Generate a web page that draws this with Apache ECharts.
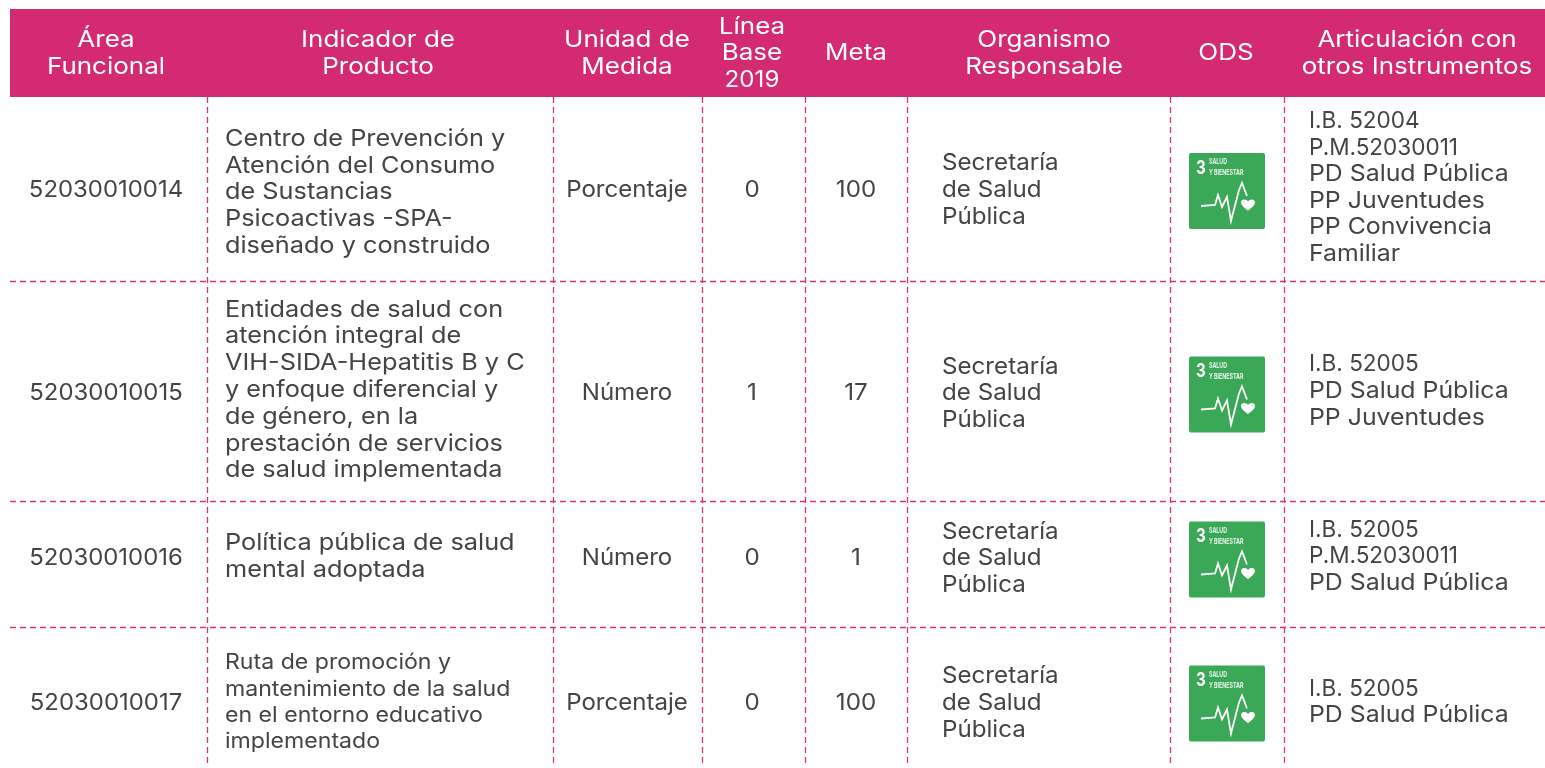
<!DOCTYPE html>
<html>
<head>
<meta charset="utf-8">
<title>Indicadores de producto</title>
<script src="https://cdn.jsdelivr.net/npm/echarts@6/dist/echarts.min.js"></script>
<style>
html,body{margin:0;padding:0;background:#fff}
#main{width:1545px;height:768px}
</style>
</head>
<body>
<div id="main"></div>
<script>
var headers = [
  ['Área', 'Funcional'],
  ['Indicador de', 'Producto'],
  ['Unidad de', 'Medida'],
  ['Línea', 'Base', '2019'],
  ['Meta'],
  ['Organismo', 'Responsable'],
  ['ODS'],
  ['Articulación con', 'otros Instrumentos']
];
var areaCodes = ['52030010014', '52030010015', '52030010016', '52030010017'];
var indicators = [
  ['Centro de Prevención y', 'Atención del Consumo', 'de Sustancias', 'Psicoactivas -SPA-', 'diseñado y construido'],
  ['Entidades de salud con', 'atención integral de', 'VIH-SIDA-Hepatitis B y C', 'y enfoque diferencial y', 'de género, en la', 'prestación de servicios', 'de salud implementada'],
  ['Política pública de salud', 'mental adoptada'],
  ['Ruta de promoción y', 'mantenimiento de la salud', 'en el entorno educativo', 'implementado']
];
var units = ['Porcentaje', 'Número', 'Número', 'Porcentaje'];
var baselines = ['0', '1', '0', '0'];
var goals = ['100', '17', '1', '100'];
var organisms = [
  ['Secretaría', 'de Salud', 'Pública'],
  ['Secretaría', 'de Salud', 'Pública'],
  ['Secretaría', 'de Salud', 'Pública'],
  ['Secretaría', 'de Salud', 'Pública']
];
var articulations = [
  ['I.B. 52004', 'P.M.52030011', 'PD Salud Pública', 'PP Juventudes', 'PP Convivencia', 'Familiar'],
  ['I.B. 52005', 'PD Salud Pública', 'PP Juventudes'],
  ['I.B. 52005', 'P.M.52030011', 'PD Salud Pública'],
  ['I.B. 52005', 'PD Salud Pública']
];
var odsGoals = [3, 3, 3, 3];

// layout, in page pixels
var colLines = [207, 553, 702, 805, 907, 1170, 1284];
var headCenters = [106, 378, 627, 752, 856, 1044, 1226, 1417];
var rowLines = [281, 501, 627];
var rowCenters = [190, 393.5, 558.5, 703];
var indicatorCenters = [192.5, 390, 556.5, 702.5];
var articulationCenters = [187.5, 391, 556.5, 702];
var iconCenters = [191, 394.5, 559.5, 703.5];
var left = 10, right = 1545, headTop = 9, headBottom = 97, tableBottom = 765;

var pink = '#d42a71';
var dash = '#da3079';
var ink = '#444444';
var fontName = 'Inter';

var myChart = echarts.init(document.getElementById('main'));

// no Montserrat here, so the text is stretched sideways to its width
function textLines(api, lines, x, cy, align, color, size, step, stretch) {
  var out = [];
  for (var i = 0; i < lines.length; i++) {
    var p = api.coord([x, cy + (i - (lines.length - 1) / 2) * step]);
    var s = /^(I\.B|P\.M)/.test(lines[i]) ? .98 : (lines[i] === '2019' ? 1.05 : stretch);
    out.push({
      type: 'text',
      x: p[0], y: p[1], scaleX: s,
      style: {
        x: 0, y: 0, text: lines[i], fill: color,
        font: '400 ' + size + 'px ' + fontName,
        textAlign: align, textVerticalAlign: 'middle'
      }
    });
  }
  return out;
}

function renderBack(params, api) {
  var a = api.coord([left, headTop]);
  var b = api.coord([right, headBottom]);
  var kids = [{type: 'rect', shape: {x: a[0], y: a[1], width: b[0] - a[0], height: b[1] - a[1]}, style: {fill: pink}}];
  colLines.forEach(function (x) {
    var p = api.coord([x, headBottom]), q = api.coord([x, tableBottom]);
    kids.push({type: 'line', shape: {x1: p[0] + .5, y1: p[1], x2: q[0] + .5, y2: q[1]}, style: {stroke: dash, lineWidth: 1.3, lineDash: [6, 4]}});
  });
  rowLines.forEach(function (y) {
    var p = api.coord([left, y]), q = api.coord([right, y]);
    kids.push({type: 'line', shape: {x1: p[0], y1: p[1] + .5, x2: q[0], y2: q[1] + .5}, style: {stroke: dash, lineWidth: 1.3, lineDash: [6, 4]}});
  });
  return {type: 'group', children: kids};
}

function renderHead(params, api) {
  var i = api.value(0);
  return {type: 'group', children: textLines(api, headers[i], headCenters[i], 53.5, 'center', '#fff', 23, 26.8, 1.13)};
}

function odsIcon(api, goal, cy) {
  var c = api.coord([1227, cy]);
  return {
    type: 'group', x: c[0] - 38, y: c[1] - 38,
    children: [
      {type: 'rect', shape: {x: 0, y: 0, width: 76, height: 76, r: 2}, style: {fill: '#3ba857'}},
      {type: 'text', x: 7, y: 15, scaleX: .8, style: {x: 0, y: 0, text: String(goal), fill: '#fff', font: '700 19px ' + fontName, textAlign: 'left', textVerticalAlign: 'middle'}},
      {type: 'text', x: 20, y: 9, scaleX: .66, style: {x: 0, y: 0, text: 'SALUD', fill: '#e6f5ea', font: '700 8px ' + fontName, textAlign: 'left', textVerticalAlign: 'middle'}},
      {type: 'text', x: 20, y: 20, scaleX: .66, style: {x: 0, y: 0, text: 'Y BIENESTAR', fill: '#e6f5ea', font: '700 8px ' + fontName, textAlign: 'left', textVerticalAlign: 'middle'}},
      {type: 'polyline', shape: {points: [[12, 53], [26, 52], [29, 42], [33, 54], [38, 44], [42, 68], [50, 37], [53, 30], [58, 43]]}, style: {stroke: '#fff', lineWidth: 1.8, fill: null}},
      {type: 'path', shape: {pathData: 'M65 62 C59 57 55 54 55 50 C55 46 60 45 63 47 L65 49 L67 47 C70 45 75 46 75 50 C75 54 71 57 65 62 Z', x: 52, y: 46, width: 14, height: 12}, style: {fill: '#fff'}}
    ]
  };
}

function renderRow(params, api) {
  var r = api.value(0);
  var bodySize = 23, step = 26.8;
  var kids = [];
  kids = kids.concat(textLines(api, [areaCodes[r]], headCenters[0], rowCenters[r], 'center', ink, bodySize, step, 1.04));
  kids = kids.concat(textLines(api, indicators[r], 225, indicatorCenters[r], 'left', ink, r === 3 ? 21.3 : bodySize, r === 3 ? 26.4 : step, r === 3 ? 1.085 : 1.1));
  kids = kids.concat(textLines(api, [units[r]], headCenters[2], rowCenters[r], 'center', ink, bodySize, step, 1.045));
  kids = kids.concat(textLines(api, [baselines[r]], headCenters[3], rowCenters[r], 'center', ink, bodySize, step, 1.05));
  kids = kids.concat(textLines(api, [goals[r]], headCenters[4], rowCenters[r], 'center', ink, bodySize, step, 1.05));
  kids = kids.concat(textLines(api, organisms[r], 942, rowCenters[r], 'left', ink, bodySize, step, 1.05));
  kids.push(odsIcon(api, odsGoals[r], iconCenters[r]));
  kids = kids.concat(textLines(api, articulations[r], 1309, articulationCenters[r], 'left', ink, bodySize, 26.6, 1.08));
  return {type: 'group', children: kids};
}

option = {
  animation: false,
  backgroundColor: '#fff',
  grid: {left: 0, right: 0, top: 0, bottom: 0},
  xAxis: {type: 'value', min: 0, max: 1545, show: false},
  yAxis: {type: 'value', min: 0, max: 768, inverse: true, show: false},
  series: [
    {type: 'custom', coordinateSystem: 'cartesian2d', silent: true, renderItem: renderBack, data: [[0]], encode: {x: 0, y: 0}, clip: false},
    {type: 'custom', coordinateSystem: 'cartesian2d', silent: true, renderItem: renderHead, data: headers.map(function (h, i) { return [i]; }), encode: {x: 0, y: 0}, clip: false},
    {type: 'custom', coordinateSystem: 'cartesian2d', silent: true, renderItem: renderRow, data: areaCodes.map(function (c, i) { return [i]; }), encode: {x: 0, y: 0}, clip: false}
  ]
};
myChart.setOption(option);
</script>
</body>
</html>
